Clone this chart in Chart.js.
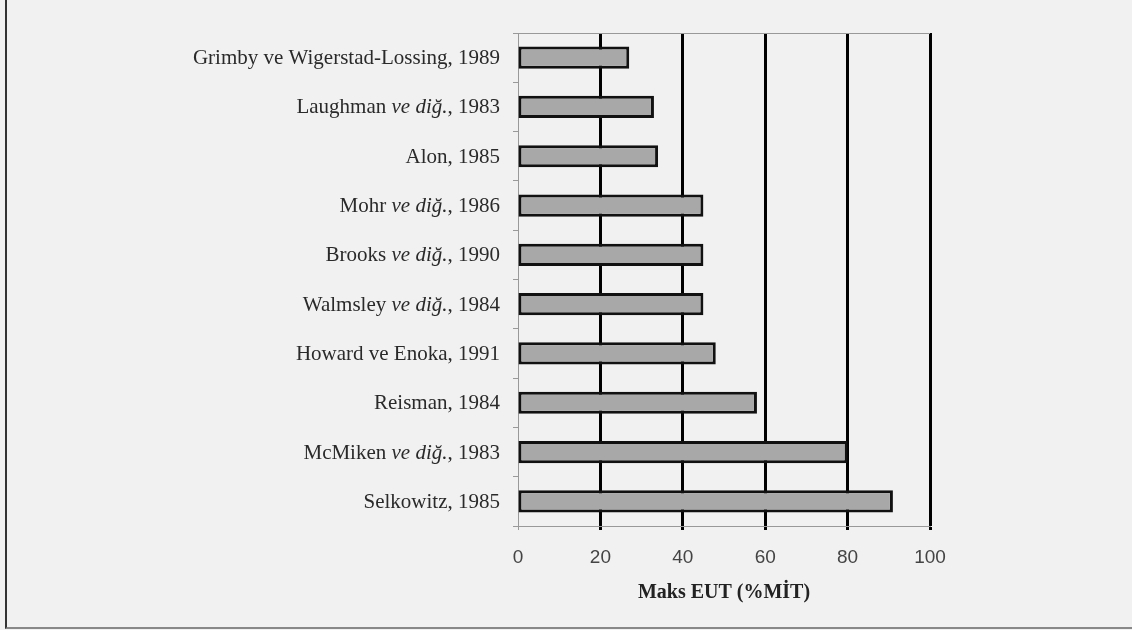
<!DOCTYPE html>
<html>
<head>
<meta charset="utf-8">
<script src="https://cdn.jsdelivr.net/npm/chart.js@4.4.1/dist/chart.umd.min.js"></script>
<style>
  html, body { margin: 0; padding: 0; background: #f1f1f1; }
  #wrap { position: relative; width: 1132px; height: 630px; overflow: hidden; }
  #frame { position: absolute; left: 5px; top: -2px; right: -2px; bottom: 1px;
           border-left: 2px solid #333; border-bottom: 2px solid #888; }
  canvas { position: absolute; left: 0; top: 0; }
</style>
</head>
<body>
<div id="wrap">
  <div id="frame"></div>
  <canvas id="chart" width="1132" height="630"></canvas>
</div>
<script>
/* ---- data ------------------------------------------------------------- */
const studies = [
  'Grimby ve Wigerstad-Lossing, 1989',
  'Laughman ve diğ., 1983',
  'Alon, 1985',
  'Mohr ve diğ., 1986',
  'Brooks ve diğ., 1990',
  'Walmsley ve diğ., 1984',
  'Howard ve Enoka, 1991',
  'Reisman, 1984',
  'McMiken ve diğ., 1983',
  'Selkowitz, 1985'
];
const maxEUT = [27, 33, 34, 45, 45, 45, 48, 58, 80, 91];
const xTicks = [0, 20, 40, 60, 80, 100];
const xTitle = 'Maks EUT (%MİT)';
const italicPart = 've diğ.';

const SERIF = '"Liberation Serif", "Times New Roman", serif';

/* ---- rich y labels: "ve diğ." in italics ------------------------------ */
const richLabels = {
  id: 'richLabels',
  afterDraw(chart) {
    const { ctx, scales: { y }, chartArea } = chart;
    const xRight = chartArea.left - 18;
    ctx.save();
    ctx.fillStyle = '#2a2a2a';
    ctx.textBaseline = 'middle';
    ctx.textAlign = 'left';
    studies.forEach((lab, i) => {
      const k = lab.indexOf(italicPart);
      const parts = k < 0 ? [[lab, false]]
        : [[lab.slice(0, k), false], [italicPart, true], [lab.slice(k + italicPart.length), false]];
      const fontOf = it => (it ? 'italic ' : '') + '21px ' + SERIF;
      let total = 0;
      parts.forEach(([t, it]) => { ctx.font = fontOf(it); total += ctx.measureText(t).width; });
      let x = xRight - total;
      const yy = y.getPixelForValue(i) + 1;
      parts.forEach(([t, it]) => {
        ctx.font = fontOf(it);
        ctx.fillText(t, x, yy);
        x += ctx.measureText(t).width;
      });
    });
    ctx.restore();
  }
};

new Chart(document.getElementById('chart'), {
  type: 'bar',
  data: {
    labels: studies,
    datasets: [{
      data: maxEUT,
      backgroundColor: '#a8a8a8',
      borderColor: '#111',
      borderWidth: 3,
      borderSkipped: false,
      categoryPercentage: 1,
      barPercentage: 0.45
    }]
  },
  options: {
    indexAxis: 'y',
    responsive: false,
    animation: false,
    layout: { padding: { top: 33, right: 202, left: 0, bottom: 0 } },
    plugins: { legend: { display: false }, tooltip: { enabled: false } },
    scales: {
      x: {
        min: 0, max: 100,
        afterBuildTicks: s => { s.ticks = xTicks.map(v => ({ value: v })); },
        afterFit: s => { s.height = 104; },
        border: { color: '#999', width: 1 },
        grid: {
          color: c => c.index === 0 ? '#999' : '#000',
          lineWidth: c => c.index === 0 ? 1 : 3,
          tickLength: 4
        },
        ticks: {
          padding: 16,
          color: '#444',
          font: { family: '"Liberation Sans", Arial, sans-serif', size: 19 }
        },
        title: {
          display: true,
          text: xTitle,
          color: '#222',
          font: { family: SERIF, size: 20, weight: 'bold' },
          padding: { top: 0, bottom: 25 }
        }
      },
      y: {
        afterFit: s => { s.width = 518; },
        border: { color: '#999', width: 1 },
        grid: {
          offset: true,
          color: c => c.index === 0 ? '#999' : 'rgba(0,0,0,0)',
          tickColor: '#999',
          tickLength: 5,
          lineWidth: 1
        },
        ticks: { display: false }
      }
    }
  },
  plugins: [richLabels]
});
</script>
</body>
</html>
